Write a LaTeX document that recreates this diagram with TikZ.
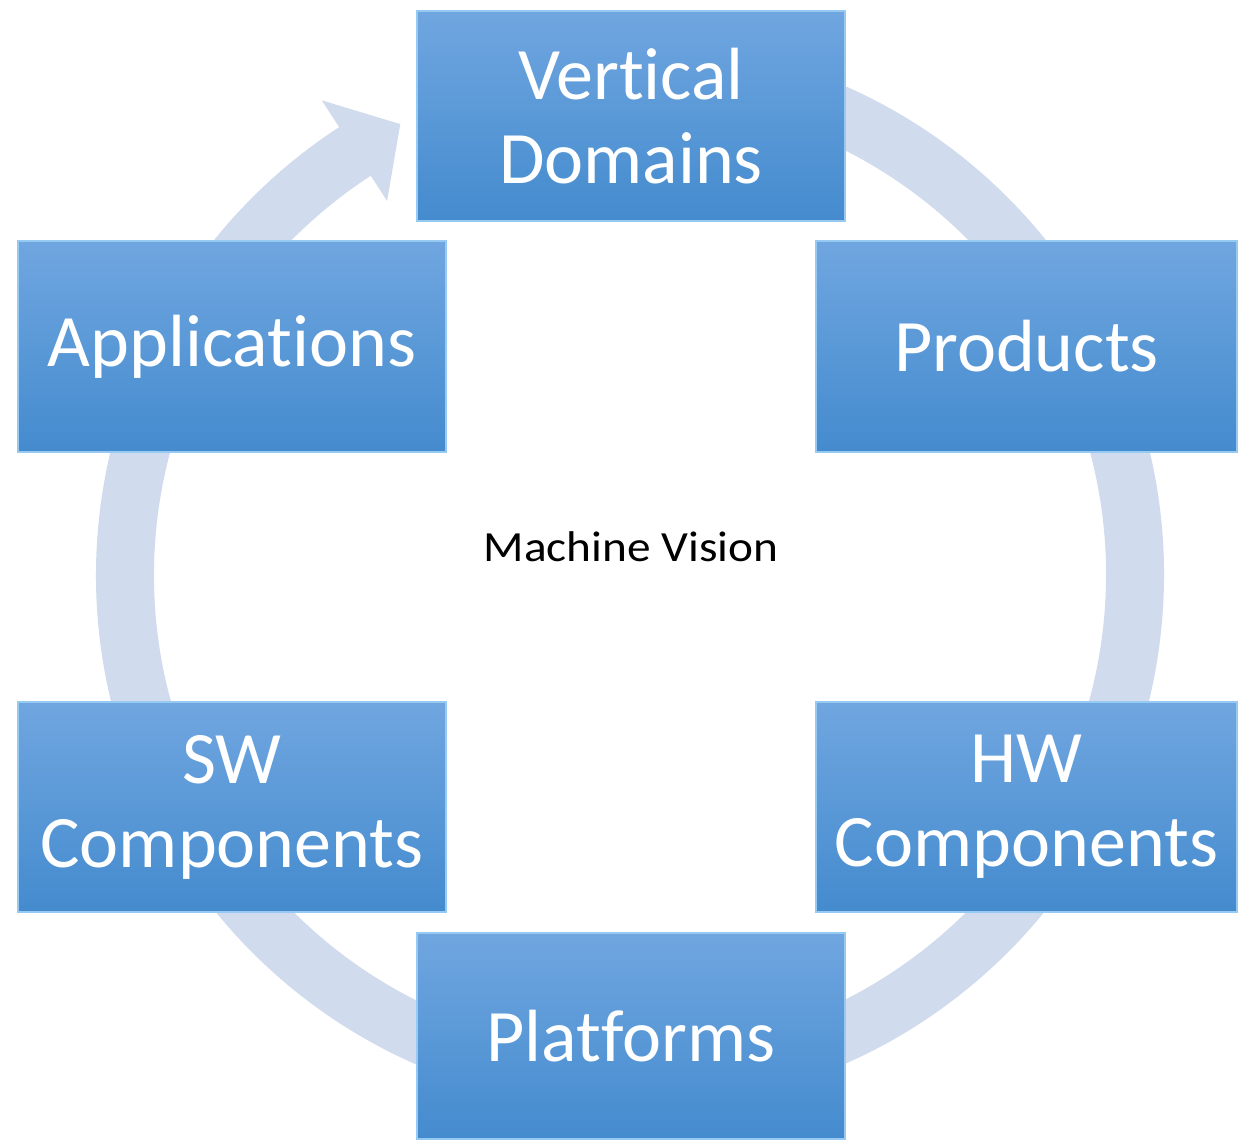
\documentclass[tikz,border=0pt]{standalone}
\usepackage{fontspec}
\setmainfont{Carlito}[Ligatures={NoCommon}]
\newfontfamily\mvfont{Carlito}[FakeStretch=1.1, Ligatures={NoCommon}]
\usetikzlibrary{calc}
\definecolor{ringc}{RGB}{208,219,237}
\definecolor{boxtop}{RGB}{112,166,224}
\definecolor{boxbot}{RGB}{68,139,206}
\definecolor{boxedge}{RGB}{150,202,242}
\tikzset{
  cyclebox/.style={rectangle, inner sep=0pt, top color=boxtop, bottom color=boxbot,
    draw=boxedge, line width=2.5pt, text=white, align=center,
    font=\fontsize{74}{84}\selectfont},
  ringfill/.style={fill=ringc, draw=none}
}
\begin{document}
\begin{tikzpicture}[x=1pt,y=1pt]
\useasboundingbox (0,0) rectangle (1239,1140);
\coordinate (c) at (630,565);
% cycle arrow ring
\path[ringfill] ($(c)+(85:534)$) arc[start angle=85, end angle=-237, radius=534]
  -- ($(c)+(-237:566)$) -- ($(c)+(-243:506)$) -- ($(c)+(-237:446)$)
  -- ($(c)+(-237:476)$) arc[start angle=-237, end angle=85, radius=476] -- cycle;
% boxes
\node[cyclebox, minimum width=428pt, minimum height=210pt] (vd) at (631,1024) {Vertical\\Domains};
\node[cyclebox, minimum width=428pt, minimum height=211pt] (app) at (232,793.5) {Applications};
\node[cyclebox, minimum width=421pt, minimum height=211pt] (prod) at (1026.5,793.5) {Products};
\node[cyclebox, minimum width=428pt, minimum height=210pt] (sw) at (232,333) {SW\\Components};
\node[cyclebox, minimum width=421pt, minimum height=210pt] (hw) at (1026.5,333) {HW\\Components};
\node[cyclebox, minimum width=428pt, minimum height=206pt] (plat) at (631,104) {Platforms};
\node[font=\mvfont\fontsize{43}{50}\selectfont, text=black] (mv) at (631,593) {Machine Vision};
\end{tikzpicture}
\end{document}
